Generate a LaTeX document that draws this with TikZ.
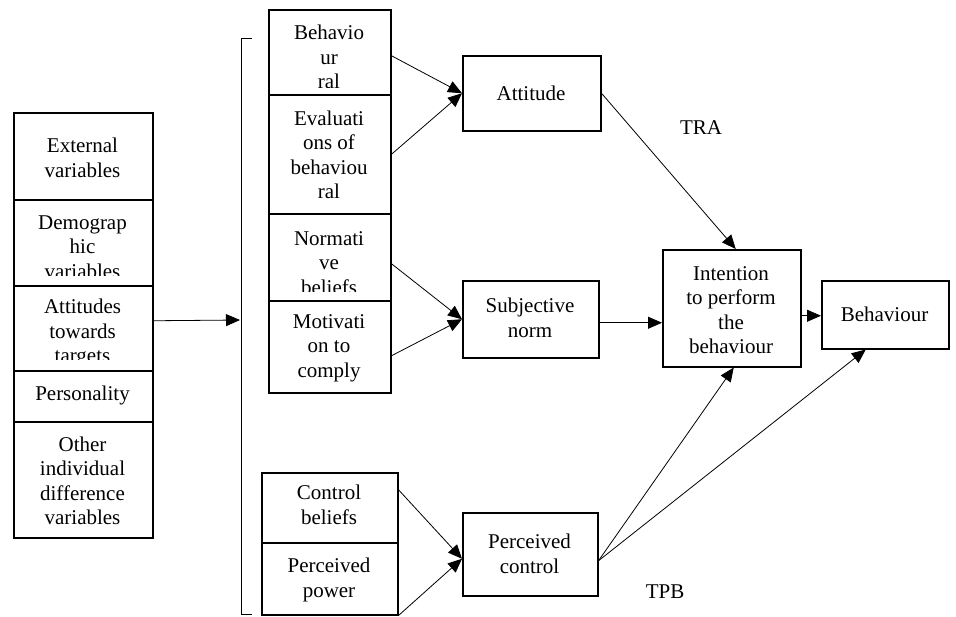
\documentclass[tikz,border=0pt]{standalone}
\usepackage{fontspec}
\setmainfont{Liberation Serif}
\usetikzlibrary{arrows.meta}
\begin{document}
\begin{tikzpicture}[x=1pt,y=-1pt,
  box/.style={draw, line width=1.5pt, inner sep=0pt, anchor=north west},
  txt/.style={align=center, font=\fontsize{21}{24.5}\selectfont, inner sep=0pt},
  conn/.style={line width=0.8pt, -{Triangle[length=14pt,width=12pt]}},
  bare/.style={line width=0.8pt}]
\useasboundingbox (0,0) rectangle (956,616);
\fill[white] (0,0) rectangle (956,616);

% left column
\node[box, minimum width=139pt, minimum height=87pt] (ext) at (13,112) {};
\node[box, minimum width=139pt, minimum height=86pt] (dem) at (13,199) {};
\node[box, minimum width=139pt, minimum height=85pt] (atg) at (13,285) {};
\node[box, minimum width=139pt, minimum height=51pt] (per) at (13,370) {};
\node[box, minimum width=139pt, minimum height=116pt] (oth) at (13,421) {};
\node[txt] (extT) at (82.5,158) {External\\variables};
\begin{scope}
  \clip (13,199) rectangle (152,275);
  \node[txt] (demT) at (82.5,247) {Demograp\\hic\\variables};
\end{scope}
\begin{scope}
  \clip (13,285) rectangle (152,359);
  \node[txt] (atgT) at (82.5,333) {Attitudes\\towards\\targets};
\end{scope}
\node[txt] (perT) at (82.5,395) {Personality};
\node[txt] (othT) at (82.5,481) {Other\\individual\\difference\\variables};

% bracket
\coordinate (brk) at (240,320);
\draw[bare] (252,38) -- (241,38) -- (241,614) -- (252,614);
\coordinate (a0) at ([yshift=7.5pt]atg.east);
\draw[conn] (a0) -- (brk);

% middle column
\node[box, minimum width=122pt, minimum height=85pt] (beh) at (268,9) {};
\node[box, minimum width=122pt, minimum height=119pt] (eva) at (268,94) {};
\node[box, minimum width=122pt, minimum height=87pt] (nor) at (268,213) {};
\node[box, minimum width=122pt, minimum height=92pt] (mot) at (268,300) {};
\begin{scope}
  \clip (268,9) rectangle (390,87);
  \node[txt] (behT) at (329,57) {Behavio\\ur\\ral};
\end{scope}
\node[txt] (evaT) at (329,155) {Evaluati\\ons of\\behaviou\\ral};
\begin{scope}
  \clip (268,213) rectangle (390,291);
  \node[txt] (norT) at (329,263) {Normati\\ve\\beliefs};
\end{scope}
\begin{scope}
  \clip (268,300) rectangle (390,382);
  \node[txt] (motT) at (329,348) {Motivati\\on to\\comply};
\end{scope}

% lower column
\node[box, minimum width=136pt, minimum height=70pt] (cb) at (261,472) {};
\node[box, minimum width=136pt, minimum height=72pt] (pp) at (261,542) {};
\node[txt] (cbT) at (329,505) {Control\\beliefs};
\node[txt] (ppT) at (329,580) {Perceived\\power};

% constructs
\node[box, minimum width=138pt, minimum height=75pt] (att) at (462,55) {};
\node[txt] (attT) at (531,93) {Attitude};
\node[box, minimum width=136pt, minimum height=77pt] (sub) at (462,280) {};
\node[txt] (subT) at (530,318) {Subjective\\norm};
\node[box, minimum width=135pt, minimum height=83pt] (pc) at (462,512) {};
\node[txt] (pcT) at (529.5,554) {Perceived\\control};
\node[box, minimum width=138pt, minimum height=117pt] (int) at (662,249) {};
\node[txt] (intT) at (731,310) {Intention\\to perform\\the\\behaviour};
\node[box, minimum width=127pt, minimum height=68pt] (bh) at (821,280) {};
\node[txt] (bhT) at (884.5,314) {Behaviour};

\node[txt] (tra) at (701,128) {TRA};
\node[txt] (tpb) at (665,592) {TPB};

% connectors
\draw[conn] ([yshift=-3.5pt]beh.east) -- (att.west);
\draw[conn] (eva.east) -- (att.west);
\draw[conn] ([yshift=-6.5pt]nor.east) -- (sub.west);
\draw[conn] ([yshift=-9pt]mot.east) -- (sub.west);
\coordinate (s1) at ([yshift=-3.5pt]sub.east);
\draw[conn] (s1) -- (s1 -| int.west);
\coordinate (i1) at ([yshift=-7.5pt]int.east);
\draw[conn] (i1) -- (i1 -| bh.west);
\draw[conn] (att.east) -- ([xshift=4pt]int.north);
\coordinate (p1) at ([yshift=-6.5pt]pc.east);
\draw[conn] (p1) -- ([xshift=2pt]int.south);
\draw[conn] (p1) -- ([xshift=-19.5pt]bh.south);
\coordinate (p2) at ([yshift=-4.5pt]pc.west);
\draw[conn] ([yshift=18pt]cb.east) -- (p2);
\draw[conn] (pp.south east) -- (p2);
\end{tikzpicture}
\end{document}
